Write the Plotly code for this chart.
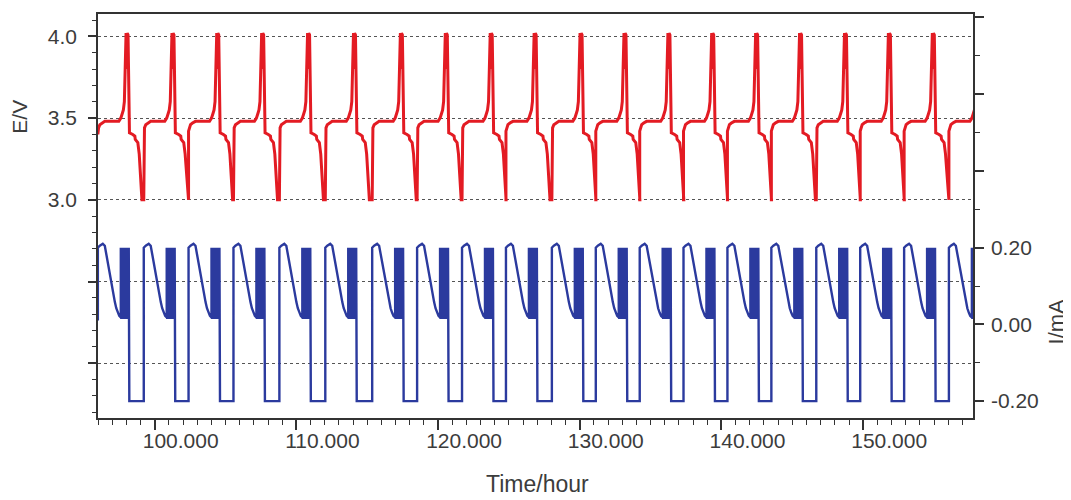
import plotly.graph_objects as go

# ---- data ----
# start time (hours) of each charge step
cycle_starts_h = [95.99, 99.23, 102.39, 105.56, 108.80, 112.04, 115.35, 118.52,
                  121.69, 124.79, 128.03, 131.13, 134.23, 137.32, 140.42, 143.52,
                  146.69, 149.79, 152.89, 156.05]

# one cycle of potential: time offset (h) from charge start, E (V)
E_cycle_t = [0.00, 0.00, 0.05, 0.14, 0.28, 0.49, 1.48, 1.62, 1.73, 1.80, 1.87,
             1.93, 1.99, 2.03, 2.07, 2.13, 2.20, 2.23, 2.46, 2.61, 2.64, 2.82,
             2.92, 2.99, 3.06, 3.11]
E_cycle_V = [3.00, 3.42, 3.44, 3.46, 3.47, 3.48, 3.48, 3.50, 3.53, 3.55, 3.60,
             3.85, 4.02, 3.80, 4.02, 4.01, 3.50, 3.41, 3.40, 3.39, 3.37, 3.35,
             3.28, 3.18, 3.07, 3.00]

# one cycle of current: charge step with decaying tail
I_cycle_t = [0.00, 0.00, 0.14, 0.35, 0.49, 0.56, 0.67, 0.77, 0.88, 0.99, 1.09,
             1.20, 1.30, 1.41, 1.51, 1.62]
I_cycle_mA = [-0.20, 0.20, 0.205, 0.21, 0.205, 0.19, 0.17, 0.145, 0.12, 0.097,
              0.077, 0.058, 0.042, 0.030, 0.022, 0.018]
# pulse block edges (h offset) and levels
pulse_edges_t = [1.62, 1.655, 1.69, 1.725, 1.76, 1.795, 1.83, 1.865, 1.90,
                 1.935, 1.97, 2.005, 2.04, 2.075, 2.11, 2.145, 2.18]
pulse_high_mA = 0.20
pulse_low_mA = 0.017
# discharge step
discharge_t = [2.22, 2.22]
discharge_mA = [0.015, -0.20]

# values at the very left edge (record starts mid-rest)
lead_E_V = 3.40
lead_I_mA = 0.01

# ---- build traces ----
tE, vE, tI, vI = [], [], [], []
for t0 in cycle_starts_h:
    for dt, v in zip(E_cycle_t, E_cycle_V):
        tE.append(t0 + dt)
        vE.append(v)
    for dt, v in zip(I_cycle_t, I_cycle_mA):
        tI.append(t0 + dt)
        vI.append(v)
    level = pulse_low_mA
    for j, dt in enumerate(pulse_edges_t):
        tI.append(t0 + dt)
        vI.append(level)
        level = pulse_high_mA if j % 2 == 0 else pulse_low_mA
        tI.append(t0 + dt)
        vI.append(level)
    for dt, v in zip(discharge_t, discharge_mA):
        tI.append(t0 + dt)
        vI.append(v)
vE[0] = lead_E_V
vI[0] = lead_I_mA

fig = go.Figure()
fig.add_trace(go.Scatter(x=tE, y=vE, mode="lines", yaxis="y",
                         line=dict(color="#e31b23", width=3), hoverinfo="skip"))
fig.add_trace(go.Scatter(x=tI, y=vI, mode="lines", yaxis="y2",
                         line=dict(color="#2b3a9e", width=2.4), hoverinfo="skip"))

axcol = "#333333"
fig.update_layout(
    width=1062, height=492,
    margin=dict(l=90, r=97, t=4, b=82),
    plot_bgcolor="white", paper_bgcolor="white",
    showlegend=False,
    font=dict(family="Liberation Sans, Arial, sans-serif", size=21, color="#3c3c3c"),
    xaxis=dict(range=[96.0, 157.75], tickmode="linear", tick0=100, dtick=10,
               tickformat=".3f", ticks="outside", ticklen=10, tickwidth=1.5,
               tickcolor=axcol, showline=True, linecolor=axcol, linewidth=1.5,
               mirror=True, showgrid=False, zeroline=False, ticklabelshift=26,
               ticklabelstandoff=-7,
               minor=dict(dtick=1, tick0=100, ticklen=5, ticks="outside",
                          tickcolor=axcol, tickwidth=1.2, showgrid=False)),
    yaxis=dict(range=[1.665, 4.137], tickmode="array",
               tickvals=[2.0, 2.5, 3.0, 3.5, 4.0],
               ticktext=["", "", "3.0", "3.5", "4.0"],
               ticks="outside", ticklen=8, tickwidth=1.5, tickcolor=axcol,
               showline=True, linecolor=axcol, linewidth=1.5,
               showgrid=True, gridcolor="#555555", griddash="dot", gridwidth=1,
               zeroline=False, ticklabelstandoff=7,
               minor=dict(dtick=0.1, tick0=2.0, ticklen=4, ticks="outside",
                          tickcolor=axcol, tickwidth=1.2, showgrid=False)),
    yaxis2=dict(range=[-0.244, 0.809], overlaying="y", side="right",
                tickmode="array", tickvals=[-0.2, 0.0, 0.2, 0.4, 0.6, 0.8],
                ticktext=["-0.20", "0.00", "0.20", "", "", ""],
                ticks="outside", ticklen=9, tickwidth=1.5, tickcolor=axcol,
                showline=True, linecolor=axcol, linewidth=1.5,
                showgrid=False, zeroline=False, ticklabelstandoff=3,
                minor=dict(dtick=0.1, tick0=0.0, ticklen=5, ticks="outside",
                           tickcolor=axcol, tickwidth=1.2, showgrid=False)),
    annotations=[
        dict(text="E/V", xref="paper", yref="paper", x=-0.0891, y=0.746,
             textangle=-90, showarrow=False, font=dict(size=21),
             xanchor="center", yanchor="middle"),
        dict(text="I/mA", xref="paper", yref="paper", x=1.0949, y=0.239,
             textangle=-90, showarrow=False, font=dict(size=22),
             xanchor="center", yanchor="middle"),
        dict(text="Time/hour", xref="paper", yref="paper", x=0.502, y=-0.164,
             showarrow=False, font=dict(size=23),
             xanchor="center", yanchor="middle"),
    ],
)

fig.write_html("out.html")
